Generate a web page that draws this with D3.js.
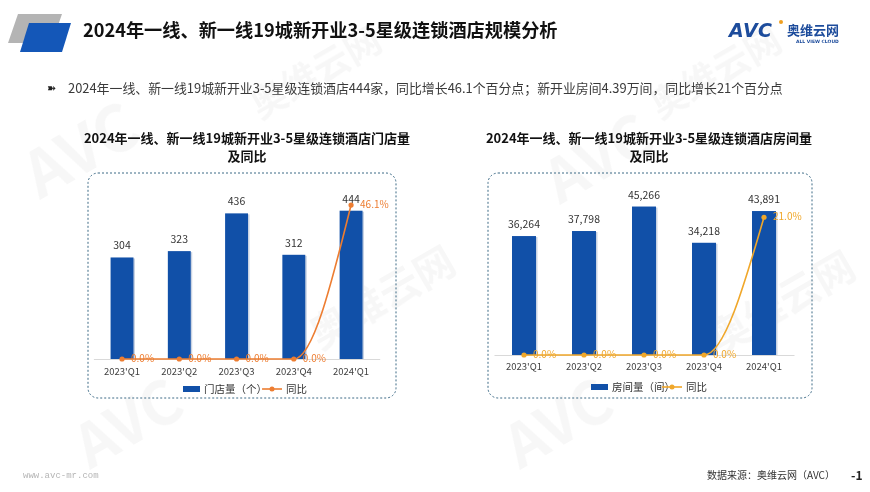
<!DOCTYPE html>
<html><head><meta charset="utf-8">
<script src="https://cdn.jsdelivr.net/npm/d3@7/dist/d3.min.js"></script>
<style>
html,body{margin:0;padding:0;background:#fff;}
svg{display:block;font-family:"Noto Sans CJK SC","Noto Sans",sans-serif;}
</style></head>
<body>
<svg id="c" width="870" height="492"></svg>
<script>
// ---------- data ----------
const categories = ["2023'Q1", "2023'Q2", "2023'Q3", "2023'Q4", "2024'Q1"];
const storeCounts = [304, 323, 436, 312, 444];
const storeYoY = [0.0, 0.0, 0.0, 0.0, 46.1];
const roomCounts = [36264, 37798, 45266, 34218, 43891];
const roomYoY = [0.0, 0.0, 0.0, 0.0, 21.0];
const mainTitle = "2024年一线、新一线19城新开业3-5星级连锁酒店规模分析";
const summary = "2024年一线、新一线19城新开业3-5星级连锁酒店444家，同比增长46.1个百分点；新开业房间4.39万间，同比增长21个百分点";
const leftTitle = ["2024年一线、新一线19城新开业3-5星级连锁酒店门店量", "及同比"];
const rightTitle = ["2024年一线、新一线19城新开业3-5星级连锁酒店房间量", "及同比"];
const leftLegend = ["门店量（个）", "同比"];
const rightLegend = ["房间量（间）", "同比"];
const source = "数据来源：奥维云网（AVC）";

const svg = d3.select("#c");

// ---------- watermarks ----------
const wm = svg.append("g").attr("fill", "#000").attr("opacity", 0.035)
  .attr("font-weight", "bold");
[[40, 200, 64, "AVC"], [320, 350, 40, "奥维云网"], [90, 470, 60, "AVC"], [560, 205, 60, "AVC"], [720, 355, 40, "奥维云网"], [520, 470, 60, "AVC"], [260, 120, 36, "奥维云网"], [660, 120, 36, "奥维云网"]]
  .forEach(([x, y, s, t]) => {
    wm.append("text").attr("transform", `translate(${x},${y}) rotate(-30)`)
      .attr("font-size", s).attr("font-family", "Noto Sans CJK SC").text(t);
  });

// ---------- header ----------
svg.append("path").attr("d", "M8,43 L18,14 L62,14 L52,43 Z").attr("fill", "#b4b4b4");
svg.append("path").attr("d", "M20,52 L29,23 L71,23 L62,52 Z").attr("fill", "#1457b8");
svg.append("text").attr("x", 83).attr("y", 37).attr("font-size", 18.2).attr("font-weight", "bold")
  .attr("fill", "#111").text(mainTitle);

// logo
const logo = svg.append("g");
logo.append("text").attr("x", 729).attr("y", 37).attr("font-size", 19).attr("font-weight", "900")
  .attr("font-family", "DejaVu Sans").attr("font-style", "italic").attr("fill", "#1d4c9c")
  .attr("letter-spacing", 0.5).text("AVC");
logo.append("circle").attr("cx", 781).attr("cy", 22).attr("r", 2).attr("fill", "#f0a020");
logo.append("text").attr("x", 787).attr("y", 35).attr("font-size", 13).attr("font-weight", "bold")
  .attr("fill", "#1d4c9c").text("奥维云网");
logo.append("text").attr("x", 796).attr("y", 43).attr("font-size", 4.5).attr("font-weight", "bold")
  .attr("font-family", "DejaVu Sans").attr("fill", "#1d4c9c").text("ALL VIEW CLOUD");

// summary line
svg.append("text").attr("x", 47).attr("y", 92).attr("font-size", 11).attr("font-family", "DejaVu Sans")
  .attr("fill", "#222").text("➽");
svg.append("text").attr("x", 68).attr("y", 92.5).attr("font-size", 12.9).attr("fill", "#3a3a3a").text(summary);

// footer
svg.append("text").attr("x", 23).attr("y", 478).attr("font-size", 9).attr("font-family", "Liberation Mono")
  .attr("fill", "#b5b5b5").text("www.avc-mr.com");
svg.append("text").attr("x", 707).attr("y", 479).attr("font-size", 10).attr("fill", "#333").text(source);
svg.append("text").attr("x", 851).attr("y", 480).attr("font-size", 12).attr("font-weight", "bold")
  .attr("fill", "#222").text("-1");

// ---------- charts ----------
function drawChart(o) {
  const g = svg.append("g");
  // title
  o.title.forEach((t, i) => {
    g.append("text").attr("x", o.titleX).attr("y", 143 + i * 17.5).attr("text-anchor", "middle")
      .attr("font-size", 13).attr("font-weight", "bold").attr("fill", "#111").text(t);
  });
  // panel
  g.append("rect").attr("x", o.box[0]).attr("y", 173).attr("width", o.box[1] - o.box[0]).attr("height", 225)
    .attr("rx", 10).attr("fill", "none").attr("stroke", "#3d6a86").attr("stroke-width", 1)
    .attr("stroke-dasharray", "2,2");

  const x = d3.scaleBand().domain(categories).range(o.xr).paddingInner(0.6).paddingOuter(0.3);
  const y = d3.scaleLinear().domain([0, o.yMax]).range([o.base, o.top]);
  const y2 = d3.scaleLinear().domain([0, o.y2Max]).range([o.base, o.top]);

  // axis
  const ax = g.append("g").attr("transform", `translate(0,${o.base})`)
    .call(d3.axisBottom(x).tickSize(0).tickPadding(o.tickPad));
  ax.select(".domain").attr("stroke", "#d9d9d9");
  ax.selectAll("text").attr("font-size", 9.5).attr("fill", "#404040")
    .attr("font-family", "Noto Sans CJK SC");

  // bars
  g.selectAll(".shadow").data(o.bars).join("rect")
    .attr("x", (d, i) => x(categories[i]) + 1.5).attr("y", d => y(d) + 1)
    .attr("width", x.bandwidth()).attr("height", d => o.base - y(d) - 1)
    .attr("fill", "#c9d3e3");
  g.selectAll(".bar").data(o.bars).join("rect")
    .attr("x", (d, i) => x(categories[i])).attr("y", d => y(d))
    .attr("width", x.bandwidth()).attr("height", d => o.base - y(d))
    .attr("fill", "#1150a8");
  g.selectAll(".vl").data(o.bars).join("text")
    .attr("x", (d, i) => x(categories[i]) + x.bandwidth() / 2).attr("y", d => y(d) - 8)
    .attr("text-anchor", "middle").attr("font-size", 10.5).attr("fill", "#333")
    .text(d => d3.format(",")(d));

  // line
  const cx = (i) => x(categories[i]) + x.bandwidth() / 2;
  const line = d3.line().x((d, i) => cx(i)).y(d => y2(d)).curve(d3.curveMonotoneX);
  g.append("path").datum(o.yoy).attr("d", line).attr("fill", "none")
    .attr("stroke", o.lineColor).attr("stroke-width", 1.6);
  g.selectAll(".pt").data(o.yoy).join("circle")
    .attr("cx", (d, i) => cx(i)).attr("cy", d => y2(d)).attr("r", 2.6).attr("fill", o.lineColor);
  g.selectAll(".pl").data(o.yoy).join("text")
    .attr("x", (d, i) => cx(i) + 9).attr("y", d => y2(d) + 3)
    .attr("font-size", 10).attr("fill", o.lineColor)
    .text(d => d3.format(".1f")(d) + "%");

  // legend
  const lg = g.append("g").attr("transform", `translate(${o.legX},${o.legY})`);
  lg.append("rect").attr("x", 0).attr("y", -3).attr("width", 17).attr("height", 6).attr("fill", "#1150a8");
  lg.append("text").attr("x", 21).attr("y", 4).attr("font-size", 10.5).attr("fill", "#333").text(o.legend[0]);
  lg.append("line").attr("x1", o.legLine).attr("x2", o.legLine + 20).attr("y1", 0).attr("y2", 0)
    .attr("stroke", o.lineColor).attr("stroke-width", 1.6);
  lg.append("circle").attr("cx", o.legLine + 10).attr("cy", 0).attr("r", 2.5).attr("fill", o.lineColor);
  lg.append("text").attr("x", o.legLine + 24).attr("y", 4).attr("font-size", 10.5).attr("fill", "#333").text(o.legend[1]);
}

drawChart({
  title: leftTitle, titleX: 247, box: [88, 396],
  xr: [93.4, 379.7], base: 359, top: 192, yMax: 500, y2Max: 50, tickPad: 9,
  bars: storeCounts, yoy: storeYoY, lineColor: "#ed7d31",
  legend: leftLegend, legX: 183, legY: 389, legLine: 79
});
drawChart({
  title: rightTitle, titleX: 649, box: [488, 812],
  xr: [494, 794], base: 355, top: 191, yMax: 50000, y2Max: 25, tickPad: 8,
  bars: roomCounts, yoy: roomYoY, lineColor: "#f0a72a",
  legend: rightLegend, legX: 591, legY: 387, legLine: 71
});
</script>
</body></html>
